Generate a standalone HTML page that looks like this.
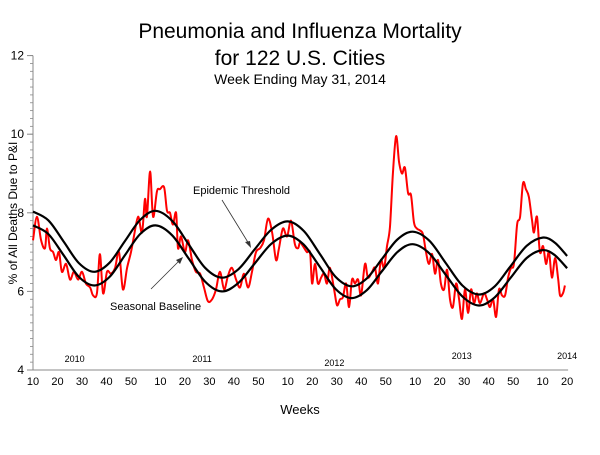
<!DOCTYPE html>
<html><head><meta charset="utf-8"><style>
body{margin:0;background:#fff;}
svg text{font-family:"Liberation Sans",Arial,sans-serif;}
</style></head><body>
<svg id="chart" width="600" height="450" xmlns="http://www.w3.org/2000/svg">
<rect width="600" height="450" fill="#fff"/>
<text x="300" y="38" font-size="21" text-anchor="middle">Pneumonia and Influenza Mortality</text>
<text x="300" y="65" font-size="21" text-anchor="middle">for 122 U.S. Cities</text>
<text x="300" y="84" font-size="14" text-anchor="middle">Week Ending  May 31, 2014</text>
<text transform="translate(17,213) rotate(-90)" font-size="12" text-anchor="middle">% of All Deaths Due to P&amp;I</text>
<text x="300" y="414" font-size="13" text-anchor="middle">Weeks</text>
<g id="axes"></g>
<g id="series"></g>
<text x="193" y="194" font-size="11">Epidemic Threshold</text>
<line x1="222" y1="200" x2="249" y2="244" stroke="#333" stroke-width="0.8"/>
<polygon points="251,248 245,242 250,241" fill="#333"/>
<text x="110" y="310" font-size="11">Seasonal Baseline</text>
<line x1="151" y1="289" x2="180" y2="260" stroke="#333" stroke-width="0.8"/>
<polygon points="183,257 176,260 180,264" fill="#333"/>
</svg>
<script>
const pWeeks=[0,1.6,3.3,4.9,5.7,6.9,8.2,9.4,10.6,11.8,13.5,15.1,16.7,18.4,20,21.6,23.3,24.5,26.1,27.3,28.6,30.2,31.8,33.5,35.1,36.7,38.4,40,41.2,42.9,44.5,45.7,46.5,47.8,49,50.6,51.8,53.5,54.7,55.9,57.1,58.4,59.2,60.4,62,63.3,64.9,66.5,68.2,69.8,71.4,73.1,74.7,76.3,78,79.6,81.2,82.9,84.5,86.1,87.8,89.4,91,92.7,94.3,95.9,97.6,99.2,100.4,102,103.7,105.3,106.9,108.2,109,110.2,111.8,113.1,113.9,115.1,116.3,117.6,118.8,120,121.2,122.9,124.1,125.3,126.5,127.8,129,130.2,131.4,132.7,133.9,135.5,136.7,138.4,139.6,140.8,142,143.3,144.5,145.7,146.9,148.2,149.4,150.6,151.8,153.1,154.3,155.5,156.7,158,159.2,160.4,161.6,162.9,164.1,165.3,166.5,167.8,169,170.2,171.4,172.7,173.9,175.1,176.3,177.6,178.8,180,181.2,182.4,184.1,185.3,186.5,187.8,189,190.2,191.4,192.7,193.9,195.1,196.3,197.6,198.8,200,201.2,202.4,203.7,204.5,205.7,206.9,208.2,209.4,210.6,211.8,213.1,214.3,215.1,216.3,217.1];
const pValues=[7.3,7.9,7.3,7.1,7.6,7.1,7.0,6.8,7.0,6.5,6.7,6.3,6.5,6.3,6.5,6.2,6.1,5.9,5.95,6.95,5.95,6.5,6.45,6.6,7.0,6.05,6.6,7.0,7.4,7.9,7.5,8.35,7.9,9.05,7.9,8.55,8.6,8.65,8.05,8.0,7.7,8.0,7.1,7.4,7.0,7.3,6.8,6.5,6.45,6.1,5.75,5.8,6.05,6.5,6.05,6.4,6.6,6.3,6.1,6.45,6.1,6.5,7.0,7.1,7.3,7.85,7.5,6.8,7.1,7.6,7.4,7.8,7.2,7.1,7.25,7.15,7.0,6.98,6.2,6.7,6.2,6.35,6.45,6.2,6.6,6.05,5.65,5.8,5.85,6.2,5.6,6.3,6.2,6.3,5.9,6.7,6.35,6.5,6.6,6.2,6.8,6.6,7.15,7.65,9.0,9.95,9.3,9.0,9.15,8.5,8.45,7.75,7.6,7.55,7.45,7.0,6.7,6.95,6.45,6.8,6.2,6.05,6.55,5.8,5.6,6.2,5.8,5.3,6.05,5.45,6.05,5.7,5.95,5.7,5.95,5.8,5.6,5.8,5.35,6.05,5.9,5.9,6.35,6.6,6.7,7.7,7.9,8.75,8.6,8.4,7.8,7.5,7.9,7.0,7.15,6.7,7.0,6.35,6.85,6.35,5.9,5.95,6.15];
const tWeeks=[0,6.25,12.5,18.75,25,31.25,37.5,43.75,50,56.75,63.5,70.25,77,83.75,90.5,97.25,104,110.5,117,123.5,130,136.25,142.5,148.75,155,161.75,168.5,175.25,182,188.5,195,201.5,208,213,218];
const tValues=[8.03,7.81,7.27,6.72,6.5,6.73,7.28,7.82,8.05,7.80,7.2,6.60,6.35,6.56,7.07,7.57,7.78,7.54,6.96,6.37,6.13,6.33,6.83,7.32,7.52,7.29,6.72,6.15,5.92,6.13,6.65,7.16,7.37,7.24,6.90];
const bWeeks=[0,6.25,12.5,18.75,25,31.25,37.5,43.75,50,56.75,63.5,70.25,77,83.75,90.5,97.25,104,110.5,117,123.5,130,136.25,142.5,148.75,155,161.75,168.5,175.25,182,188.5,195,201.5,208,213,218];
const bValues=[7.68,7.46,6.92,6.37,6.15,6.37,6.92,7.46,7.68,7.43,6.84,6.25,6.0,6.21,6.71,7.21,7.42,7.19,6.63,6.06,5.83,6.03,6.52,7.0,7.2,6.97,6.42,5.87,5.64,5.85,6.35,6.85,7.05,6.92,6.59];
const yTicks=[4,6,8,10,12];
const xTickLabels=["10","20","30","40","50","10","20","30","40","50","10","20","30","40","50","10","20","30","40","50","10","20"];
const xTickWeeks=[0,10,20,30,40,52,62,72,82,92,104,114,124,134,144,156,166,176,186,196,208,218];
const yearLabels=["2010","2011","2012","2013","2014"];
const yearWeeks=[17,69,123,175,218];
const yearY=[358,358,362,355,355];

const X0=33,XW=2.45,Y0=370,YU=39.3;
function xs(w){return X0+w*XW;}
function ys(v){return Y0-(v-4)*YU;}
const NS="http://www.w3.org/2000/svg";
const axes=document.getElementById('axes'),series=document.getElementById('series');
function mk(tag,attrs,parent){const e=document.createElementNS(NS,tag);for(const k in attrs)e.setAttribute(k,attrs[k]);parent.appendChild(e);return e;}

let e=mk('line',{x1:X0,y1:ys(12),x2:X0,y2:ys(4),stroke:'#888','stroke-width':1},axes);


e=mk('line',{x1:X0,y1:Y0,x2:xs(218)+1,y2:Y0,stroke:'#888','stroke-width':1},axes);


for(let v=4;v<=12.001;v+=0.2){
  const t=mk('line',{x1:X0-3,y1:ys(v),x2:X0,y2:ys(v),stroke:'#888','stroke-width':0.8},axes);
  
  
}
yTicks.forEach(v=>{
  const t=mk('line',{x1:X0-6,y1:ys(v),x2:X0,y2:ys(v),stroke:'#888','stroke-width':1},axes);
  
  
  const l=mk('text',{x:X0-9,y:ys(v)+4,'font-size':12,'text-anchor':'end'},axes);
  l.textContent=v;
  
  
});
xTickLabels.forEach((s,i)=>{
  const l=mk('text',{x:xs(xTickWeeks[i]),y:385,'font-size':11,'text-anchor':'middle'},axes);
  l.textContent=s;
  
  
});
yearLabels.forEach((s,i)=>{
  const l=mk('text',{x:xs(yearWeeks[i]),y:yearY[i]+4,'font-size':9,'text-anchor':'middle'},axes);
  l.textContent=s;
  
  
});
function smooth(ws,vs){
  const p=ws.map((w,i)=>[xs(w),ys(vs[i])]);
  let d='M'+p[0][0].toFixed(1)+','+p[0][1].toFixed(1);
  for(let i=0;i<p.length-1;i++){
    const a=p[Math.max(0,i-1)],b=p[i],c=p[i+1],n=p[Math.min(p.length-1,i+2)];
    const c1=[b[0]+(c[0]-a[0])/6,b[1]+(c[1]-a[1])/6],c2=[c[0]-(n[0]-b[0])/6,c[1]-(n[1]-b[1])/6];
    d+=' C'+c1.map(q=>q.toFixed(1))+' '+c2.map(q=>q.toFixed(1))+' '+c[0].toFixed(1)+','+c[1].toFixed(1);
  }
  return d;
}
const pi=mk('path',{d:smooth(pWeeks,pValues),fill:'none',stroke:'#ff0000','stroke-width':2,'stroke-linejoin':'round'},series);


const th=mk('path',{d:smooth(tWeeks,tValues),fill:'none',stroke:'#000','stroke-width':2.2},series);


const bl=mk('path',{d:smooth(bWeeks,bValues),fill:'none',stroke:'#000','stroke-width':2.2},series);


</script>
</body></html>
